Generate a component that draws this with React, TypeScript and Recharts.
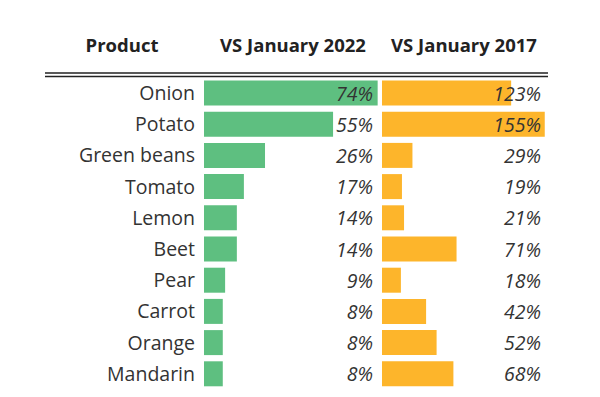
import React from "react";
import { BarChart, Bar, XAxis, YAxis, LabelList, Cell } from "recharts";

const products = ["Onion", "Potato", "Green beans", "Tomato", "Lemon", "Beet", "Pear", "Carrot", "Orange", "Mandarin"];
const vsJan2022 = [74, 55, 26, 17, 14, 14, 9, 8, 8, 8];
const vsJan2017 = [123, 155, 29, 19, 21, 71, 18, 42, 52, 68];
const headers = ["Product", "VS January 2022", "VS January 2017"];

const data = products.map((p, i) => ({ product: p, a: vsJan2022[i], b: vsJan2017[i] }));

const FONT = "'Open Sans', Lato, sans-serif";
const TEXT = "#333333";
const GREEN = "#5EBF80";
const ORANGE = "#FDB52B";

const H = 397;
const TOP = 77.5;
const BOTTOM = 7.5;

const makeValueLabel = (rightX: number) => (props: any) => {
  const { y, height, value } = props;
  return (
    <text
      x={rightX}
      y={y + height / 2}
      textAnchor="end"
      dominantBaseline="central"
      fontFamily={FONT}
      fontSize={19.5}
      fontStyle="italic"
      fill={TEXT}
    >
      {value}%
    </text>
  );
};

export default function App() {
  return (
    <div style={{ position: "absolute", left: 0, top: 0, width: 600, height: H, background: "#fff", fontFamily: FONT }}>
      <svg width={600} height={H} style={{ position: "absolute", left: 0, top: 0 }}>
        <text x={122} y={44} textAnchor="middle" dominantBaseline="central" fontFamily={FONT} fontWeight="bold" fontSize={18.5} fill="#222">{headers[0]}</text>
        <text x={293} y={44} textAnchor="middle" dominantBaseline="central" fontFamily={FONT} fontWeight="bold" fontSize={18.5} fill="#222">{headers[1]}</text>
        <text x={464} y={44} textAnchor="middle" dominantBaseline="central" fontFamily={FONT} fontWeight="bold" fontSize={18.5} fill="#222">{headers[2]}</text>
        <line x1={45} x2={548} y1={73} y2={73} stroke="#222" strokeWidth={1.5} />
        <line x1={45} x2={548} y1={76.5} y2={76.5} stroke="#222" strokeWidth={1.5} />
      </svg>
      <div style={{ position: "absolute", left: 0, top: 0 }}>
        <BarChart
          width={380}
          height={H}
          data={data}
          layout="vertical"
          margin={{ top: TOP, bottom: BOTTOM, left: 0, right: 0 }}
          barCategoryGap={3}
        >
          <XAxis type="number" domain={[0, 75]} hide />
          <YAxis
            type="category"
            dataKey="product"
            width={204}
            axisLine={false}
            tickLine={false}
            tickMargin={3}
            tick={{ fontFamily: FONT, fontSize: 19.5, fill: TEXT }}
          />
          <Bar dataKey="a" fill={GREEN} isAnimationActive={false}>
            <LabelList dataKey="a" content={makeValueLabel(373)} />
          </Bar>
        </BarChart>
      </div>
      <div style={{ position: "absolute", left: 382, top: 0 }}>
        <BarChart
          width={168}
          height={H}
          data={data}
          layout="vertical"
          margin={{ top: TOP, bottom: BOTTOM, left: 0, right: 0 }}
          barCategoryGap={3}
        >
          <XAxis type="number" domain={[0, 160]} hide />
          <YAxis type="category" dataKey="product" hide />
          <Bar dataKey="b" fill={ORANGE} isAnimationActive={false}>
            {data.map((d) => (
              <Cell key={d.product} fill={ORANGE} />
            ))}
            <LabelList dataKey="b" content={makeValueLabel(159)} />
          </Bar>
        </BarChart>
      </div>
    </div>
  );
}
